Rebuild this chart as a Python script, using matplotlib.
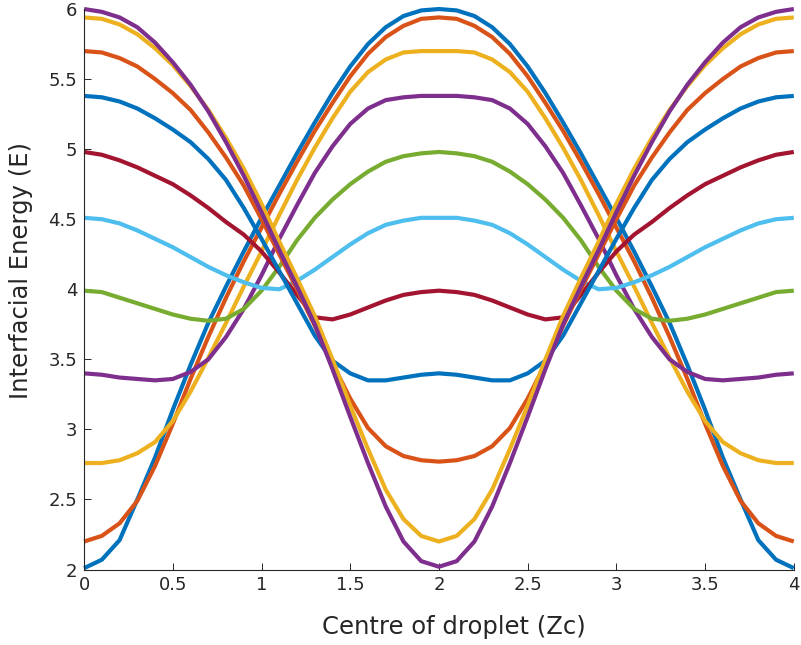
import matplotlib
matplotlib.use("Agg")
import matplotlib.pyplot as plt
from matplotlib.ticker import FormatStrFormatter
import numpy as np

# droplet centre positions, one period of the pattern
zc = np.linspace(0.0, 4.0, 41)

# interfacial energy curves, one per run (MATLAB default line order)
e01 = [2.01, 2.07, 2.21, 2.50, 2.80, 3.14, 3.46, 3.76, 4.02, 4.27, 4.51,
       4.74, 4.97, 5.19, 5.40, 5.59, 5.75, 5.87, 5.95, 5.99, 6.00,
       5.99, 5.95, 5.87, 5.75, 5.59, 5.40, 5.19, 4.97, 4.74, 4.51,
       4.27, 4.02, 3.76, 3.46, 3.14, 2.80, 2.50, 2.21, 2.07, 2.01]
e02 = [2.20, 2.24, 2.33, 2.49, 2.74, 3.04, 3.36, 3.66, 3.94, 4.20, 4.44,
       4.68, 4.91, 5.13, 5.33, 5.52, 5.68, 5.80, 5.88, 5.93, 5.94,
       5.93, 5.88, 5.80, 5.68, 5.52, 5.33, 5.13, 4.91, 4.68, 4.44,
       4.20, 3.94, 3.66, 3.36, 3.04, 2.74, 2.49, 2.33, 2.24, 2.20]
e03 = [2.76, 2.76, 2.78, 2.83, 2.91, 3.06, 3.27, 3.51, 3.76, 4.02, 4.27,
       4.53, 4.78, 5.01, 5.22, 5.41, 5.55, 5.64, 5.69, 5.70, 5.70,
       5.70, 5.69, 5.64, 5.55, 5.41, 5.22, 5.01, 4.78, 4.53, 4.27,
       4.02, 3.76, 3.51, 3.27, 3.06, 2.91, 2.83, 2.78, 2.76, 2.76]
e04 = [3.40, 3.39, 3.37, 3.36, 3.35, 3.36, 3.41, 3.50, 3.66, 3.86, 4.10,
       4.36, 4.60, 4.83, 5.02, 5.18, 5.29, 5.35, 5.37, 5.38, 5.38,
       5.38, 5.37, 5.35, 5.29, 5.18, 5.02, 4.83, 4.60, 4.36, 4.10,
       3.86, 3.66, 3.50, 3.41, 3.36, 3.35, 3.36, 3.37, 3.39, 3.40]
e05 = [3.99, 3.98, 3.94, 3.90, 3.86, 3.82, 3.79, 3.775, 3.79, 3.86, 3.99,
       4.16, 4.35, 4.51, 4.64, 4.75, 4.84, 4.91, 4.95, 4.97, 4.98,
       4.97, 4.95, 4.91, 4.84, 4.75, 4.64, 4.51, 4.35, 4.16, 3.99,
       3.86, 3.79, 3.775, 3.79, 3.82, 3.86, 3.90, 3.94, 3.98, 3.99]
e06 = [4.51, 4.50, 4.47, 4.42, 4.36, 4.30, 4.23, 4.16, 4.10, 4.05, 4.01,
       4.00, 4.06, 4.14, 4.23, 4.32, 4.40, 4.46, 4.49, 4.51, 4.51,
       4.51, 4.49, 4.46, 4.40, 4.32, 4.23, 4.14, 4.06, 4.00, 4.01,
       4.05, 4.10, 4.16, 4.23, 4.30, 4.36, 4.42, 4.47, 4.50, 4.51]
e07 = [4.98, 4.96, 4.92, 4.87, 4.81, 4.75, 4.67, 4.58, 4.48, 4.39, 4.27,
       4.12, 3.96, 3.80, 3.785, 3.82, 3.87, 3.92, 3.96, 3.98, 3.99,
       3.98, 3.96, 3.92, 3.87, 3.82, 3.785, 3.80, 3.96, 4.12, 4.27,
       4.39, 4.48, 4.58, 4.67, 4.75, 4.81, 4.87, 4.92, 4.96, 4.98]
e08 = [5.38, 5.37, 5.34, 5.29, 5.22, 5.14, 5.05, 4.93, 4.78, 4.58, 4.36,
       4.13, 3.90, 3.67, 3.49, 3.40, 3.35, 3.35, 3.37, 3.39, 3.40,
       3.39, 3.37, 3.35, 3.35, 3.40, 3.49, 3.67, 3.90, 4.13, 4.36,
       4.58, 4.78, 4.93, 5.05, 5.14, 5.22, 5.29, 5.34, 5.37, 5.38]
e09 = [5.70, 5.69, 5.65, 5.59, 5.50, 5.40, 5.28, 5.12, 4.94, 4.74, 4.50,
       4.25, 4.00, 3.74, 3.47, 3.22, 3.01, 2.88, 2.81, 2.78, 2.77,
       2.78, 2.81, 2.88, 3.01, 3.22, 3.47, 3.74, 4.00, 4.25, 4.50,
       4.74, 4.94, 5.12, 5.28, 5.40, 5.50, 5.59, 5.65, 5.69, 5.70]
e10 = [5.94, 5.93, 5.89, 5.82, 5.72, 5.60, 5.45, 5.28, 5.08, 4.86, 4.61,
       4.34, 4.08, 3.81, 3.50, 3.17, 2.86, 2.57, 2.36, 2.24, 2.20,
       2.24, 2.36, 2.57, 2.86, 3.17, 3.50, 3.81, 4.08, 4.34, 4.61,
       4.86, 5.08, 5.28, 5.45, 5.60, 5.72, 5.82, 5.89, 5.93, 5.94]
e11 = [6.00, 5.98, 5.94, 5.87, 5.76, 5.62, 5.46, 5.27, 5.05, 4.81, 4.55,
       4.28, 4.02, 3.75, 3.43, 3.09, 2.76, 2.45, 2.20, 2.06, 2.02,
       2.06, 2.20, 2.45, 2.76, 3.09, 3.43, 3.75, 4.02, 4.28, 4.55,
       4.81, 5.05, 5.27, 5.46, 5.62, 5.76, 5.87, 5.94, 5.98, 6.00]

curves = [e01, e02, e03, e04, e05, e06, e07, e08, e09, e10, e11]

# MATLAB default colour order
line_colors = ["#0072BD", "#D95319", "#EDB120", "#7E2F8E",
               "#77AC30", "#4DBEEE", "#A2142F"]

x_ticks = [0, 0.5, 1, 1.5, 2, 2.5, 3, 3.5, 4]
y_ticks = [2, 2.5, 3, 3.5, 4, 4.5, 5, 5.5, 6]

axis_grey = "#262626"

fig = plt.figure(figsize=(8.01, 6.45), dpi=100)
ax = fig.add_axes([0.105, 0.117, 0.886, 0.869])

for i, energy in enumerate(curves):
    ax.plot(zc, energy, color=line_colors[i % len(line_colors)],
            linewidth=3.0, solid_joinstyle="round", solid_capstyle="butt",
            clip_on=False)

ax.set_xlim(0, 4)
ax.set_ylim(2, 6)
ax.set_xticks(x_ticks)
ax.set_yticks(y_ticks)
ax.xaxis.set_major_formatter(FormatStrFormatter("%g"))
ax.yaxis.set_major_formatter(FormatStrFormatter("%g"))

# box off: only left and bottom axis lines
ax.spines["top"].set_visible(False)
ax.spines["right"].set_visible(False)
for side in ("left", "bottom"):
    ax.spines[side].set_color(axis_grey)
    ax.spines[side].set_linewidth(0.8)

ax.tick_params(direction="in", length=5, width=0.7, colors=axis_grey,
               labelsize=13, pad=5)

ax.set_xlabel("Centre of droplet (Zc)", fontsize=17.5, color=axis_grey)
ax.set_ylabel("Interfacial Energy (E)", fontsize=17.5, color=axis_grey)
ax.xaxis.set_label_coords(0.521, -0.082)
ax.yaxis.set_label_coords(-0.072, 0.534)

fig.savefig("out.png", dpi=100)
plt.close(fig)
